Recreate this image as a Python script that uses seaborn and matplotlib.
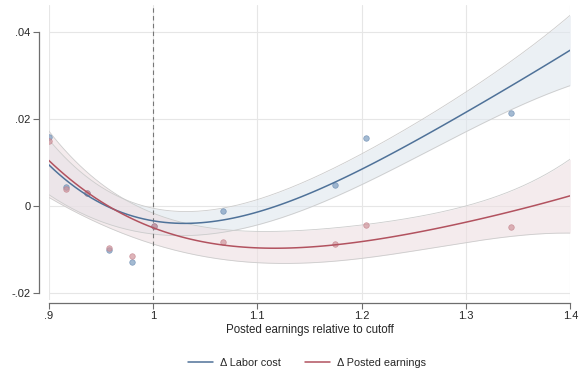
import numpy as np
import pandas as pd
import matplotlib
matplotlib.use("Agg")
import matplotlib.pyplot as plt
import seaborn as sns
from matplotlib.lines import Line2D

# ---- binned scatter points ----
x_bins = [0.900, 0.917, 0.937, 0.9575, 0.980, 1.001, 1.067, 1.1745, 1.204, 1.3435]
labor_cost = [0.0160, 0.0045, 0.0031, -0.0100, -0.0128, -0.0045, -0.0010, 0.0050, 0.0156, 0.0215]
posted_earn = [0.0151, 0.0039, 0.0030, -0.0096, -0.0115, -0.0045, -0.0082, -0.0087, -0.0044, -0.0048]

# ---- fitted curves ----
fit_x = [0.90, 0.925, 0.95, 0.975, 1.00, 1.025, 1.05, 1.075, 1.10, 1.15, 1.20, 1.25, 1.30, 1.35, 1.40]
labor_fit = [0.0089, 0.0054, 0.0009, -0.0020, -0.0037, -0.0038, -0.0036, -0.0028, -0.0018,
             0.0030, 0.0090, 0.0150, 0.0213, 0.0284, 0.0360]
posted_fit = [0.0102, 0.0062, 0.0009, -0.0025, -0.0054, -0.0069, -0.0080, -0.0088, -0.0093,
              -0.0096, -0.0083, -0.0061, -0.0035, -0.0008, 0.0024]

# ---- 95% confidence bands ----
band_x = [0.90, 0.95, 1.00, 1.05, 1.10, 1.20, 1.30, 1.40]
labor_hi = [0.0154, 0.0043, -0.0004, -0.0004, 0.0008, 0.0124, 0.0261, 0.0439]
labor_lo = [0.0024, -0.0027, -0.0068, -0.0064, -0.0048, 0.0057, 0.0167, 0.0278]
posted_hi = [0.0175, 0.0048, -0.0015, -0.0044, -0.0058, -0.0046, 0.0003, 0.0108]
posted_lo = [0.0018, -0.0033, -0.0093, -0.0116, -0.0129, -0.0117, -0.0085, -0.0061]

series_names = ["\u0394 Labor cost", "\u0394 Posted earnings"]
x_ticks = [0.9, 1.0, 1.1, 1.2, 1.3, 1.4]
x_ticklabels = [".9", "1", "1.1", "1.2", "1.3", "1.4"]
y_ticks = [-0.02, 0.0, 0.02, 0.04]
y_ticklabels = ["-.02", "0", ".02", ".04"]
cutoff = 1.0
x_title = "Posted earnings relative to cutoff"

line_colors = ["#4f7299", "#b2525f"]
dot_colors = ["#7d9dc0", "#d0959c"]
dot_edges = ["#5f82aa", "#c07a84"]
band_colors = ["#dfe6ee", "#eddfe2"]

sns.set_style("white")
plt.rcParams["font.family"] = ["Liberation Sans", "DejaVu Sans"]

fig = plt.figure(figsize=(5.85, 3.73), dpi=100)
ax = fig.add_axes([48.7 / 585, 73 / 373, (570.3 - 48.7) / 585, 295 / 373])

xg = np.linspace(0.9, 1.4, 200)


def smooth(x, y, deg=4):
    return np.polyval(np.polyfit(x, y, deg), xg)


bands = [(smooth(band_x, labor_lo), smooth(band_x, labor_hi)),
         (smooth(band_x, posted_lo), smooth(band_x, posted_hi))]
for i, (lo, hi) in enumerate(bands):
    ax.fill_between(xg, lo, hi, color=band_colors[i], alpha=0.6, lw=0, zorder=1)
    ax.plot(xg, lo, color="#cccccc", lw=0.6, zorder=1.5)
    ax.plot(xg, hi, color="#cccccc", lw=0.6, zorder=1.5)

for i, yv in enumerate([labor_cost, posted_earn]):
    sns.scatterplot(x=x_bins, y=yv, color=dot_colors[i], s=16, edgecolor=dot_edges[i],
                    linewidth=0.5, alpha=0.7, legend=False, ax=ax, zorder=3)

for i, yfit in enumerate([labor_fit, posted_fit]):
    sns.regplot(x=fit_x, y=yfit, order=4, ci=None, scatter=False, truncate=True,
                line_kws=dict(color=line_colors[i], lw=1.1, zorder=4), ax=ax)

ax.axvline(cutoff, color="#777777", lw=0.8, ls=(0, (4, 3)), zorder=2)

ax.set_xlim(0.9, 1.4)
ax.set_ylim(-0.0215, 0.0462)
ax.set_xticks(x_ticks)
ax.set_xticklabels(x_ticklabels)
ax.set_yticks(y_ticks)
ax.set_yticklabels(y_ticklabels)
ax.grid(True, color="#e6e6e6", lw=0.8)
ax.set_axisbelow(True)

for s in ["top", "right"]:
    ax.spines[s].set_visible(False)
ax.spines["left"].set_position(("outward", 7))
ax.spines["bottom"].set_position(("outward", 2))
ax.spines["left"].set_bounds(-0.02, 0.04)
ax.spines["bottom"].set_bounds(0.9, 1.4)
for s in ["left", "bottom"]:
    ax.spines[s].set_color("#6e6e6e")
    ax.spines[s].set_linewidth(0.9)
ax.tick_params(axis="both", which="both", length=4, width=0.8, color="#6e6e6e",
               labelsize=8, pad=2, left=True, bottom=True)
ax.set_xlabel(x_title, fontsize=8.3, labelpad=2)
ax.set_ylabel("")

handles = [Line2D([], [], color=line_colors[i], lw=1.1) for i in range(2)]
fig.legend(handles, series_names, loc="center", bbox_to_anchor=(307 / 585, 1 - 363 / 373),
           ncol=2, frameon=False, fontsize=7.8, handlelength=2.3, columnspacing=2.2,
           handletextpad=0.65)

fig.savefig("out.png", dpi=100)
